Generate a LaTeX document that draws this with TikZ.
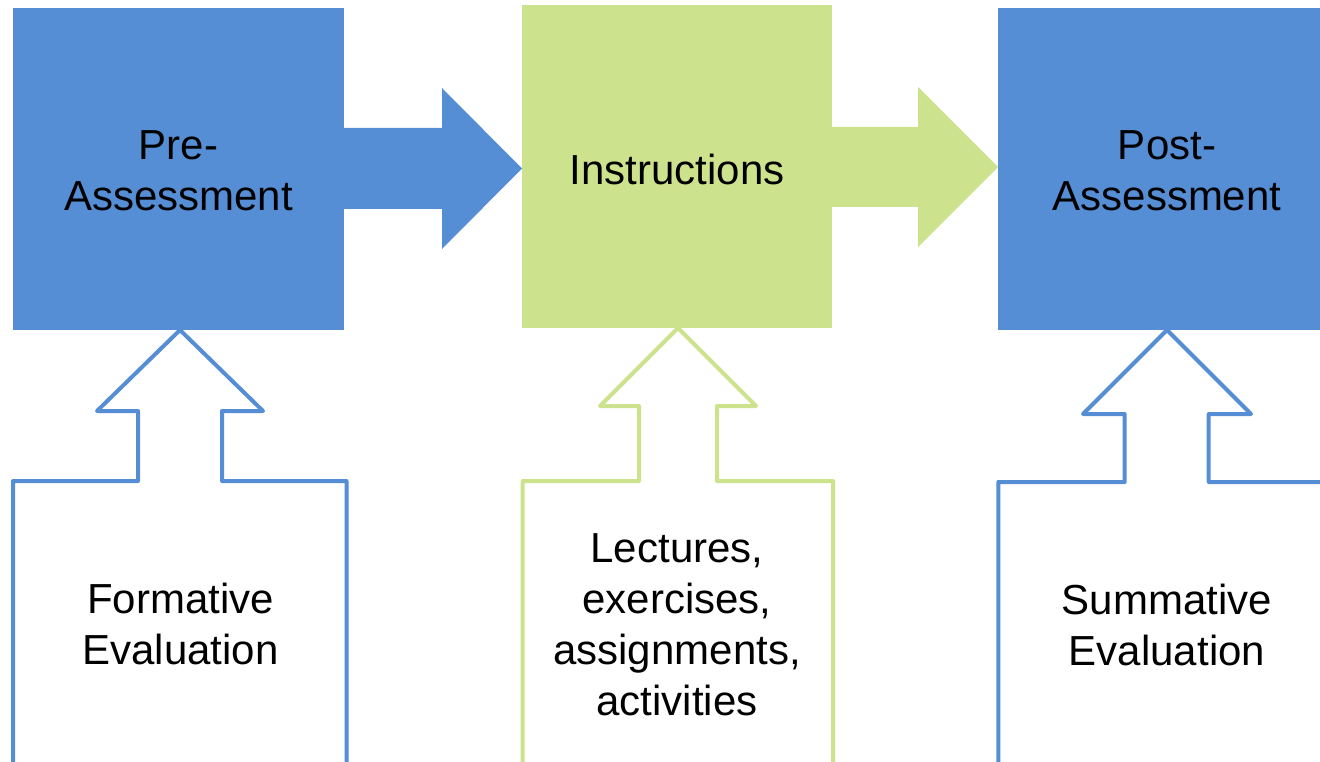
\documentclass[tikz,border=0pt]{standalone}
\usepackage{fontspec}
\setmainfont{Liberation Sans}
\usetikzlibrary{calc}
\definecolor{boxblue}{HTML}{558ED5}
\definecolor{boxgreen}{HTML}{CDE28D}
\begin{document}
\begin{tikzpicture}[x=1pt,y=-1pt,
  topbox/.style={draw=none,inner sep=0pt,outer sep=0pt},
  lbl/.style={inner sep=0pt,align=center,font=\fontsize{42}{51}\selectfont,text=black},
  callout/.style={line width=4pt,line join=round,fill=white}]
\useasboundingbox (0,0) rectangle (1320,762);
% top boxes
\path[fill=boxblue] (13,8) rectangle (344,330);
\node[topbox,minimum width=331pt,minimum height=322pt] (pre) at (178.5,169) {};
\path[fill=boxgreen] (522,5) rectangle (832,328);
\node[topbox,minimum width=310pt,minimum height=323pt] (instr) at (677,166.5) {};
\path[fill=boxblue] (998,8) rectangle (1336,330);
\node[topbox,minimum width=338pt,minimum height=322pt] (post) at (1167,169) {};
% texts
\node[lbl] (pretxt) at (178.6,170.7) {Pre-\\Assessment};
\node[lbl] (instrtxt) at (677,169) {Instructions};
\node[lbl] (posttxt) at (1167,170.7) {Post-\\Assessment};
% block arrows
\coordinate (a1tip) at (522,168.5);
\coordinate (a2tip) at (998,167);
\fill[boxblue] (344,128) -- (442,128) -- (442,88) -- (a1tip) -- (442,249) -- (442,209) -- (344,209) -- cycle;
\fill[boxgreen] (832,127) -- (918,127) -- (918,87) -- (a2tip) -- (918,247) -- (918,207) -- (832,207) -- cycle;
% callouts
\coordinate (ftip) at (180,330);
\draw[callout,draw=boxblue] (13,775) -- (13,481) -- (138,481) -- (138,411) -- (97,411) -- (ftip)
  -- (263,411) -- (222,411) -- (222,481) -- (346.5,481) -- (346.5,775);
\coordinate (ltip) at (678,328);
\draw[callout,draw=boxgreen] (522.7,775) -- (522.7,481) -- (639,481) -- (639,406) -- (600,406) -- (ltip)
  -- (756,406) -- (717,406) -- (717,481) -- (833,481) -- (833,775);
\coordinate (stip) at (1167,330);
\draw[callout,draw=boxblue] (998.3,775) -- (998.3,482) -- (1124.7,482) -- (1124.7,414) -- (1083,414) -- (stip)
  -- (1251,414) -- (1208.7,414) -- (1208.7,482) -- (1340,482) -- (1340,775);
\node[lbl] (formative) at (180.5,623.7) {Formative\\Evaluation};
\node[lbl] (lectures) at (677,624.5) {Lectures,\\exercises,\\assignments,\\activities};
\node[lbl] (summative) at (1167,624.7) {Summative\\Evaluation};
\end{tikzpicture}
\end{document}
